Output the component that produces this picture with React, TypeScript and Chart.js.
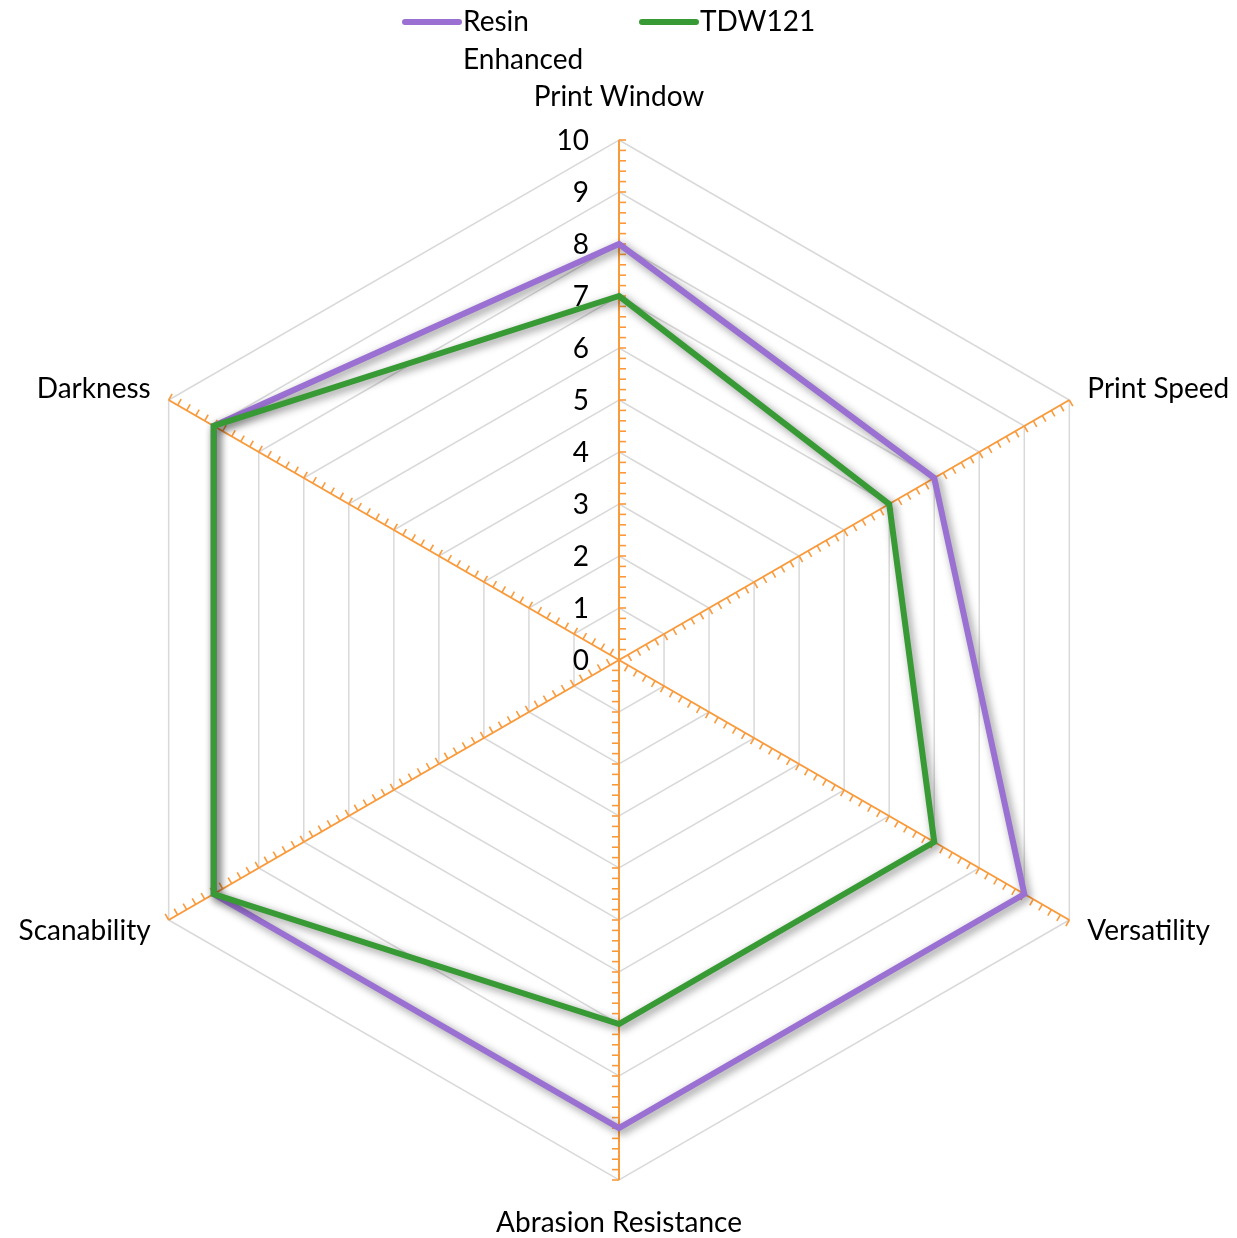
import React, { useEffect, useRef } from 'react';
import { Chart, registerables } from 'chart.js';

Chart.register(...registerables);

const categories = ['Print Window', 'Print Speed', 'Versatility', 'Abrasion Resistance', 'Scanability', 'Darkness'];
const resinEnhanced = [8, 7, 9, 9, 9, 9];
const tdw121 = [7, 6, 7, 7, 9, 9];
const tickValues = [0, 1, 2, 3, 4, 5, 6, 7, 8, 9, 10];
const seriesLabels = [['Resin', 'Enhanced'], ['TDW121']];
const minorPerUnit = 5;

const FONT = 'Lato, "Open Sans", sans-serif';
const FONT_SIZE = 28;
const PURPLE = '#9a70d2';
const GREEN = '#389a34';
const ORANGE = '#f99a3c';
const GRID = '#d9d9d9';

const shadowPlugin = {
  id: 'lineShadow',
  beforeDatasetDraw(chart: any) {
    const ctx = chart.ctx;
    ctx.save();
    ctx.shadowColor = 'rgba(0,0,0,0.45)';
    ctx.shadowBlur = 8;
    ctx.shadowOffsetX = 3;
    ctx.shadowOffsetY = 3;
  },
  afterDatasetDraw(chart: any) {
    chart.ctx.restore();
  },
};

const axisDecorPlugin = {
  id: 'axisDecor',
  beforeDatasetsDraw(chart: any) {
    const ctx = chart.ctx;
    const scale = chart.scales.r;
    const max = tickValues[tickValues.length - 1];
    ctx.save();
    // minor tick marks along each spoke
    ctx.strokeStyle = ORANGE;
    ctx.lineWidth = 1.6;
    for (let i = 0; i < categories.length; i++) {
      const a = scale.getIndexAngle(i) - Math.PI / 2;
      const px = -Math.sin(a);
      const py = Math.cos(a);
      for (let k = 1; k <= max * minorPerUnit; k++) {
        const v = k / minorPerUnit;
        const p = scale.getPointPositionForValue(i, v);
        ctx.beginPath();
        ctx.moveTo(p.x, p.y);
        ctx.lineTo(p.x + px * 7, p.y + py * 7);
        ctx.stroke();
      }
    }
    // tick labels left of the vertical axis
    ctx.fillStyle = '#000';
    ctx.font = `${FONT_SIZE}px ${FONT}`;
    ctx.textAlign = 'right';
    ctx.textBaseline = 'middle';
    tickValues.forEach((v) => {
      const p = scale.getPointPositionForValue(0, v);
      ctx.fillText(String(v), p.x - 30, p.y + 1);
    });
    // category labels
    categories.forEach((label, i) => {
      const a = scale.getIndexAngle(i) - Math.PI / 2;
      const p = scale.getPointPosition(i, scale.drawingArea);
      const c = Math.cos(a);
      const s = Math.sin(a);
      if (Math.abs(c) < 0.01) {
        ctx.textAlign = 'center';
        ctx.fillText(label, p.x, p.y + Math.sign(s) * 43);
      } else {
        ctx.textAlign = c > 0 ? 'left' : 'right';
        ctx.fillText(label, p.x + Math.sign(c) * 18, p.y + Math.sign(s) * 11);
      }
    });
    ctx.restore();
  },
  afterDraw(chart: any) {
    const ctx = chart.ctx;
    ctx.save();
    ctx.font = `${FONT_SIZE}px ${FONT}`;
    ctx.fillStyle = '#000';
    ctx.textAlign = 'left';
    ctx.textBaseline = 'middle';
    const colors = [PURPLE, GREEN];
    const starts = [405, 642];
    seriesLabels.forEach((lines, idx) => {
      const x0 = starts[idx];
      ctx.strokeStyle = colors[idx];
      ctx.lineWidth = 6;
      ctx.lineCap = 'round';
      ctx.beginPath();
      ctx.moveTo(x0, 22);
      ctx.lineTo(x0 + 54, 22);
      ctx.stroke();
      lines.forEach((t, li) => {
        ctx.fillText(t, x0 + 58, 22 + li * 38);
      });
    });
    ctx.restore();
  },
};

export default function App() {
  const ref = useRef<HTMLCanvasElement>(null);
  useEffect(() => {
    if (!ref.current) return;
    const chart = new Chart(ref.current, {
      type: 'radar',
      data: {
        labels: categories,
        datasets: [
          {
            label: 'Resin Enhanced',
            data: resinEnhanced,
            borderColor: PURPLE,
            backgroundColor: PURPLE,
            borderWidth: 6,
            fill: false,
            pointRadius: 0,
            pointHoverRadius: 0,
            order: 1,
          },
          {
            label: 'TDW121',
            data: tdw121,
            borderColor: GREEN,
            backgroundColor: GREEN,
            borderWidth: 6,
            fill: false,
            pointRadius: 0,
            pointHoverRadius: 0,
            order: 0,
          },
        ],
      },
      options: {
        animation: false,
        responsive: true,
        maintainAspectRatio: false,
        layout: { padding: { top: 140, left: 99, right: 98, bottom: 58 } },
        plugins: { legend: { display: false }, tooltip: { enabled: false }, title: { display: false } },
        elements: { line: { tension: 0, borderJoinStyle: 'miter' } },
        scales: {
          r: {
            min: 0,
            max: 10,
            beginAtZero: true,
            ticks: { stepSize: 1, display: false },
            pointLabels: { display: false },
            grid: { color: GRID, lineWidth: 1.5, circular: false },
            angleLines: { color: ORANGE, lineWidth: 2 },
          },
        },
      },
      plugins: [shadowPlugin, axisDecorPlugin],
    });
    return () => chart.destroy();
  }, []);
  return (
    <div style={{ position: 'absolute', left: 0, top: 0, width: 1237, height: 1238 }}>
      <canvas ref={ref} />
    </div>
  );
}
